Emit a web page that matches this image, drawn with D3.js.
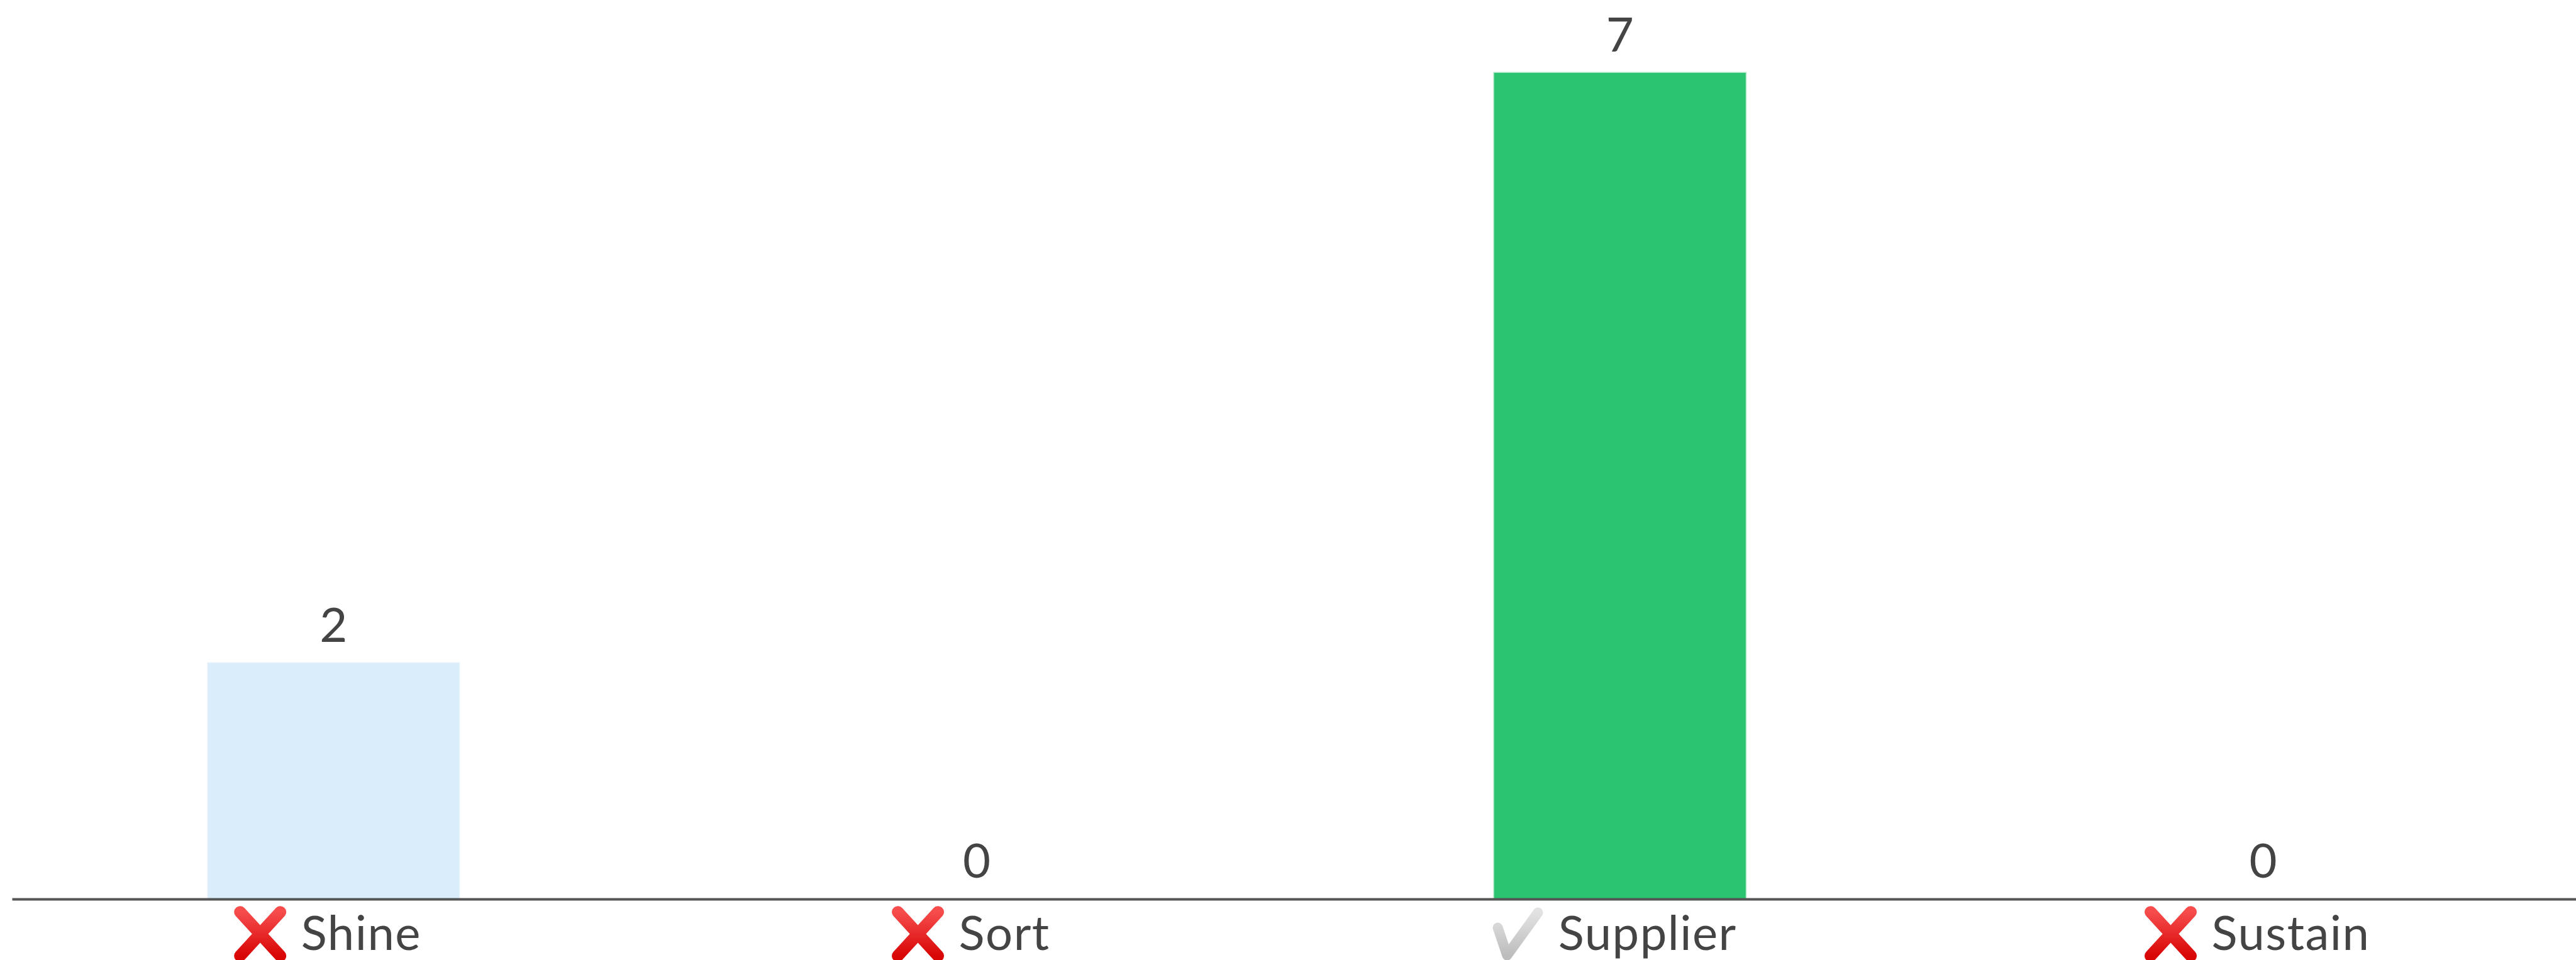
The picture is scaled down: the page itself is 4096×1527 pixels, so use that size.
<!DOCTYPE html>
<html><head><meta charset="utf-8">
<script src="https://cdn.jsdelivr.net/npm/d3@7"></script>
<style>html,body{margin:0;padding:0;background:#fff;overflow:hidden}svg{display:block}</style>
</head><body><svg id="c" width="4096" height="1527"></svg>
<script>
const categories = ["Shine", "Sort", "Supplier", "Sustain"];
const values = [2, 0, 7, 0];
const correct = [false, false, true, false];
const barColors = ["#DAEDFB", "#DAEDFB", "#2BC470", "#DAEDFB"];

const W = 4096, H = 1527, FONT = "Lato, 'Noto Sans', sans-serif", SIZE = 76, INK = "#444444";
const baseY = 1430, topY = 116, axisLeft = 19, step = 1022.7;

const svg = d3.select("#c");
const defs = svg.append("defs");
const grad = (id, a, b) => {
  const g = defs.append("linearGradient").attr("id", id).attr("x1", 0).attr("y1", 0).attr("x2", 0).attr("y2", 1);
  g.append("stop").attr("offset", 0).attr("stop-color", a);
  g.append("stop").attr("offset", 1).attr("stop-color", b);
};
grad("redG", "#F64C4C", "#D90606");
grad("grayG", "#E2E2E2", "#BDBDBD");

const x = d3.scaleBand().domain(categories)
  .range([axisLeft, axisLeft + step * categories.length])
  .paddingInner(0.609).paddingOuter(0.3045);
const y = d3.scaleLinear().domain([0, 7]).range([baseY, topY]);

const rows = categories.map((c, i) => ({ c, v: values[i], ok: correct[i], col: barColors[i] }));

svg.append("g").selectAll("rect").data(rows).join("rect")
  .attr("x", d => x(d.c)).attr("width", x.bandwidth())
  .attr("y", d => y(d.v)).attr("height", d => y(0) - y(d.v))
  .attr("fill", d => d.col)
  .attr("stroke", d => d.col).attr("stroke-opacity", d => d.v ? 0.4 : 0).attr("stroke-width", 3);

svg.append("g").selectAll("text").data(rows).join("text")
  .attr("x", d => x(d.c) + x.bandwidth() / 2)
  .attr("y", d => y(d.v) - 34)
  .attr("text-anchor", "middle")
  .attr("font-family", FONT).attr("font-size", SIZE).attr("fill", INK)
  .text(d => d.v);

const axis = svg.append("g").attr("transform", `translate(0,${baseY})`)
  .call(d3.axisBottom(x).tickSize(0).tickPadding(0));
axis.select(".domain").attr("stroke", "#555").attr("stroke-width", 4);
axis.selectAll("text").remove();

axis.selectAll(".tick").each(function (c, i) {
  const t = d3.select(this), ok = correct[i];
  const iconW = 82, iconH = 83, gap = 24, offset = -9;
  const label = t.append("text").attr("y", 81).attr("text-anchor", "start")
    .attr("font-family", FONT).attr("font-size", SIZE).attr("letter-spacing", 1.5)
    .attr("fill", INK).text(c);
  const tw = label.node().getComputedTextLength();
  const left = offset - (iconW + gap + tw) / 2;
  label.attr("x", left + iconW + gap);
  const ic = t.append("g").attr("transform", `translate(${left},14)`);
  const sx = d3.scaleLinear().domain([0, 1]).range([0, iconW]);
  const sy = d3.scaleLinear().domain([0, 1]).range([0, iconH]);
  const line = d3.line().x(p => sx(p[0])).y(p => sy(p[1]));
  const glyph = ok ? [[[0.12, 0.38], [0.3, 0.91], [0.9, 0.09]]]
                   : [[[0.11, 0.08], [0.89, 0.92]], [[0.89, 0.08], [0.11, 0.92]]];
  ic.selectAll("path").data(glyph).join("path")
    .attr("d", line).attr("fill", "none")
    .attr("stroke", ok ? "url(#grayG)" : "url(#redG)")
    .attr("stroke-width", ok ? 16 : 19)
    .attr("stroke-linecap", "round").attr("stroke-linejoin", "round");
});
</script></body></html>
